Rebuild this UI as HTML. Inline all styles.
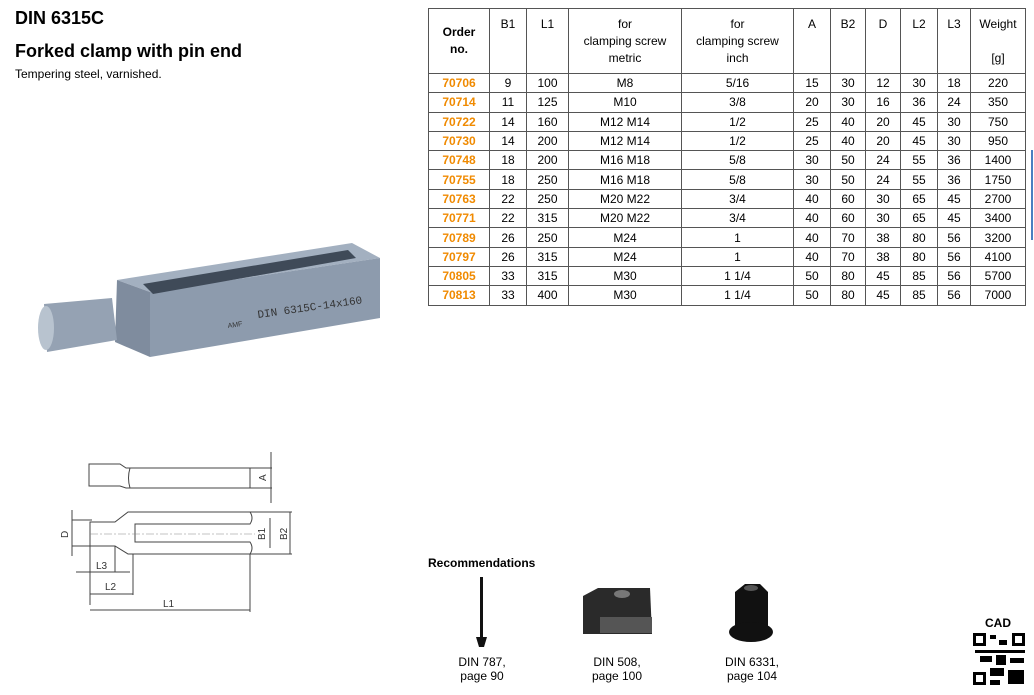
<!DOCTYPE html>
<html><head><meta charset="utf-8"><style>
body{margin:0;width:1034px;height:695px;background:#fff;font-family:"Liberation Sans",sans-serif;position:relative;overflow:hidden;color:#000}
.a{position:absolute}
table{border-collapse:collapse;position:absolute;left:428px;top:8px;font-size:12px;table-layout:fixed}
td{border:1px solid #555;text-align:center;padding:0;height:18.3px;line-height:14px}
th{border:1px solid #555;font-weight:normal;vertical-align:top;padding-top:7px;height:56px;line-height:17px;font-size:12px}
td:first-child{color:#f08a00;font-weight:bold}
.c{font-size:12px;text-align:center}
</style></head><body>
<div class="a" style="left:15px;top:8px;font-size:18px;font-weight:bold">DIN 6315C</div>
<div class="a" style="left:15px;top:41px;font-size:18px;font-weight:bold">Forked clamp with pin end</div>
<div class="a" style="left:15px;top:67px;font-size:12px">Tempering steel, varnished.</div>
<table>
<colgroup><col style="width:61px"><col style="width:37px"><col style="width:42px"><col style="width:113px"><col style="width:112px"><col style="width:37px"><col style="width:35px"><col style="width:35px"><col style="width:37px"><col style="width:33px"><col style="width:55px"></colgroup>
<tr><th style="font-weight:bold;vertical-align:middle;padding:0">Order<br>no.</th><th>B1</th><th>L1</th><th>for<br>clamping screw<br>metric</th><th>for<br>clamping screw<br>inch</th><th>A</th><th>B2</th><th>D</th><th>L2</th><th>L3</th><th>Weight<br><br>[g]</th></tr>
<tr><td>70706</td><td>9</td><td>100</td><td>M8</td><td>5/16</td><td>15</td><td>30</td><td>12</td><td>30</td><td>18</td><td>220</td></tr>
<tr><td>70714</td><td>11</td><td>125</td><td>M10</td><td>3/8</td><td>20</td><td>30</td><td>16</td><td>36</td><td>24</td><td>350</td></tr>
<tr><td>70722</td><td>14</td><td>160</td><td>M12 M14</td><td>1/2</td><td>25</td><td>40</td><td>20</td><td>45</td><td>30</td><td>750</td></tr>
<tr><td>70730</td><td>14</td><td>200</td><td>M12 M14</td><td>1/2</td><td>25</td><td>40</td><td>20</td><td>45</td><td>30</td><td>950</td></tr>
<tr><td>70748</td><td>18</td><td>200</td><td>M16 M18</td><td>5/8</td><td>30</td><td>50</td><td>24</td><td>55</td><td>36</td><td>1400</td></tr>
<tr><td>70755</td><td>18</td><td>250</td><td>M16 M18</td><td>5/8</td><td>30</td><td>50</td><td>24</td><td>55</td><td>36</td><td>1750</td></tr>
<tr><td>70763</td><td>22</td><td>250</td><td>M20 M22</td><td>3/4</td><td>40</td><td>60</td><td>30</td><td>65</td><td>45</td><td>2700</td></tr>
<tr><td>70771</td><td>22</td><td>315</td><td>M20 M22</td><td>3/4</td><td>40</td><td>60</td><td>30</td><td>65</td><td>45</td><td>3400</td></tr>
<tr><td>70789</td><td>26</td><td>250</td><td>M24</td><td>1</td><td>40</td><td>70</td><td>38</td><td>80</td><td>56</td><td>3200</td></tr>
<tr><td>70797</td><td>26</td><td>315</td><td>M24</td><td>1</td><td>40</td><td>70</td><td>38</td><td>80</td><td>56</td><td>4100</td></tr>
<tr><td>70805</td><td>33</td><td>315</td><td>M30</td><td>1 1/4</td><td>50</td><td>80</td><td>45</td><td>85</td><td>56</td><td>5700</td></tr>
<tr><td>70813</td><td>33</td><td>400</td><td>M30</td><td>1 1/4</td><td>50</td><td>80</td><td>45</td><td>85</td><td>56</td><td>7000</td></tr>
</table>
<div class="a" style="left:1031px;top:150px;width:2px;height:90px;background:#4a7fc0"></div>
<svg class="a" style="left:0;top:0" width="1034" height="695">
<g>
<path d="M117,280 L352,243 L380,258 L150,292 Z" fill="#a3b0c0"/>
<path d="M150,292 L380,258 L380,318 L150,357 Z" fill="#8d9bad"/>
<path d="M117,280 L150,292 L150,357 L115,342 Z" fill="#7f8c9e"/>
<path d="M143,284 L348,250 L356,258 L153,294 Z" fill="#3f4a58"/>
<path d="M44,304 L112,298 L117,340 L47,352 Z" fill="#95a2b3"/>
<ellipse cx="46" cy="328" rx="8" ry="22" fill="#b8c3cf"/>
<text x="258" y="318" font-size="11" fill="#333" transform="rotate(-8 258 318)" font-family="Liberation Mono">DIN 6315C-14x160</text>
<text x="228" y="328" font-size="7" fill="#333" transform="rotate(-8 228 328)">AMF</text>
</g>
<g fill="none" stroke="#444" stroke-width="1">
<path d="M89,464 L120,464 L126,468 L250,468 L250,488 L126,488 L120,486 L89,486 Z"/>
<path d="M130,468 Q127,478 130,488"/>
<path d="M250,468 L272,468 M250,488 L272,488 M271,452 L271,503"/>
<path d="M90,522 L115,522 L128,512 L250,512 Q254,518 250,524 L135,524 L135,542 L250,542 Q254,548 250,554 L128,554 L115,546 L90,546 Z"/>
<path d="M90,524 L90,605 M115,546 L115,572 M133,554 L133,595 M250,554 L250,612"/>
<path d="M72,520 L92,520 M72,546 L92,546 M72,510 L72,556"/>
<path d="M250,512 L292,512 M250,554 L292,554 M270,518 L270,548 M290,512 L290,554"/>
<path d="M76,572 L130,572 M90,594 L133,594 M90,610 L250,610"/>
</g>
<line x1="90" y1="534" x2="255" y2="534" stroke="#888" stroke-dasharray="8,2,2,2" stroke-width=".6"/>
<g font-size="10" fill="#333">
<text x="266" y="481" transform="rotate(-90 266 481)">A</text>
<text x="68" y="538" transform="rotate(-90 68 538)">D</text>
<text x="265" y="540" transform="rotate(-90 265 540)">B1</text>
<text x="287" y="540" transform="rotate(-90 287 540)">B2</text>
<text x="96" y="569">L3</text><text x="105" y="590">L2</text><text x="163" y="607">L1</text>
</g>
<rect x="480" y="577" width="3" height="60" fill="#111"/>
<path d="M476,637 L487,637 L484,647 L479,647 Z" fill="#111"/>
<path d="M583,596 L598,588 L650,588 L652,634 L583,634 Z" fill="#2a2a2a"/>
<rect x="600" y="617" width="52" height="16" fill="#555"/>
<ellipse cx="622" cy="594" rx="8" ry="4" fill="#777"/>
<path d="M735,592 L745,584 L760,584 L768,592 L768,628 L735,628 Z" fill="#111"/>
<ellipse cx="751" cy="632" rx="22" ry="10" fill="#111"/>
<ellipse cx="751" cy="588" rx="7" ry="3" fill="#555"/>
<g fill="#000">
<rect x="972" y="632" width="54" height="54" fill="#fff"/>
<rect x="973" y="633" width="13" height="13"/><rect x="1012" y="633" width="13" height="13"/><rect x="973" y="672" width="13" height="13"/>
<rect x="990" y="635" width="6" height="4"/><rect x="999" y="640" width="8" height="5"/><rect x="975" y="650" width="50" height="3"/>
<rect x="980" y="656" width="12" height="6"/><rect x="996" y="655" width="10" height="10"/><rect x="1010" y="658" width="14" height="5"/>
<rect x="990" y="668" width="14" height="8"/><rect x="1008" y="670" width="16" height="14"/><rect x="990" y="680" width="10" height="5"/>
</g>
<g fill="#fff"><rect x="976" y="636" width="7" height="7"/><rect x="1015" y="636" width="7" height="7"/><rect x="976" y="675" width="7" height="7"/></g>
</svg>
<div class="a" style="left:428px;top:556px;font-size:12px;font-weight:bold">Recommendations</div>
<div class="a c" style="left:442px;top:655px;width:80px">DIN 787,<br>page 90</div>
<div class="a c" style="left:577px;top:655px;width:80px">DIN 508,<br>page 100</div>
<div class="a c" style="left:712px;top:655px;width:80px">DIN 6331,<br>page 104</div>
<div class="a" style="left:985px;top:616px;font-size:12px;font-weight:bold">CAD</div>
</body></html>
